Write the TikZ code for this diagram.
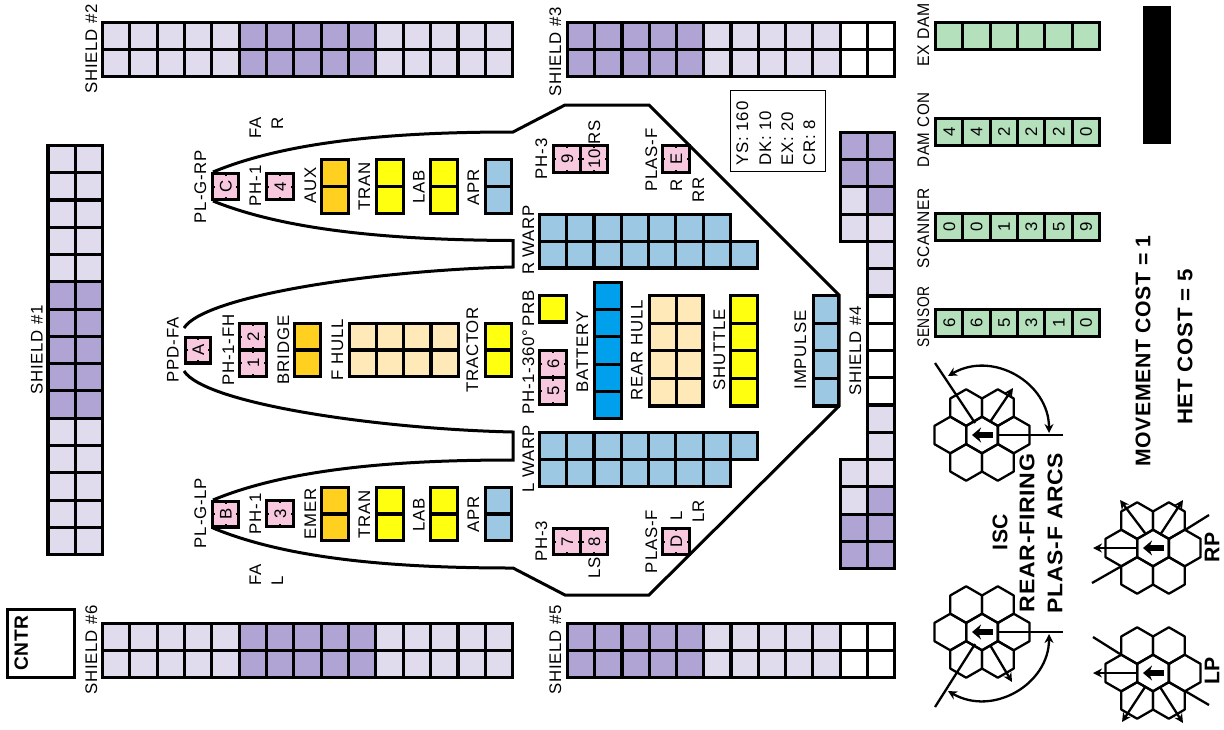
\documentclass[tikz,border=0pt]{standalone}
\usepackage{fontspec}
\setmainfont{Liberation Sans}
\newfontfamily\ssdfont[LetterSpace=5]{Liberation Sans}
\newfontfamily\ssdbold[LetterSpace=3]{Liberation Sans Bold}
\definecolor{shlight}{HTML}{E0DCEE}
\definecolor{shdark}{HTML}{AFA4D4}
\definecolor{ssdpink}{HTML}{F7C8DE}
\definecolor{ssdorange}{HTML}{FFD020}
\definecolor{ssdyellow}{HTML}{FFFF10}
\definecolor{ssdblue}{HTML}{9CC8E3}
\definecolor{ssdcream}{HTML}{FFE9B8}
\definecolor{ssdbatt}{HTML}{00A0EC}
\definecolor{ssdgreen}{HTML}{B4E0BC}
\tikzset{
	cellbox/.style={draw=black,line width=1.55pt,line join=miter},
	hull/.style={draw=black,line width=1.5pt,line join=miter},
	lab/.style={font=\ssdfont\fontsize{8.4}{9}\selectfont,rotate=90,inner sep=0pt,text height=6pt,text depth=0pt},
	digit/.style={lab,fill=none},
	bigtext/.style={font=\ssdbold\fontsize{10.6}{12}\selectfont,rotate=90,inner sep=0pt,text height=7.4pt,text depth=0pt},
	hexline/.style={line width=1.15pt,line join=round},
	arctip/.style={line width=1.15pt,-{Stealth[length=4.5pt,width=4.5pt]}},
	arctwo/.style={line width=1.15pt,{Stealth[length=4.5pt,width=4.5pt]}-{Stealth[length=4.5pt,width=4.5pt]}},
	facing/.style={line width=2.6pt,-{Stealth[length=4.5pt,width=7.5pt]}}
}
% x y cols rows pitchx pitchy colour
\newcommand{\blockgrid}[7]{
	\foreach \i in {1,...,#3}
		\foreach \j in {1,...,#4}
			\draw[cellbox,fill=#7] ({#1+(\i-1)*#5},{#2+(\j-1)*#6}) rectangle ++(#5,#6);
}
% name x y w h text
\newcommand{\phcell}[6]{
	\draw[cellbox,fill=ssdpink] (#2,#3) rectangle ++(#4,#5);
	\draw[line width=1pt] ({#2+#4/2},#3) -- ++(0,3);
	\draw[line width=1pt] ({#2+#4/2},{#3+#5}) -- ++(0,-3);
	\draw[line width=1pt] (#2,{#3+#5/2}) -- ++(3,0);
	\draw[line width=1pt] ({#2+#4},{#3+#5/2}) -- ++(-3,0);
	\node[digit] (#1) at ({#2+#4/2},{#3+#5/2}) {#6};
}
% seven hexes round a centre
\newcommand{\hexflower}[2]{
	\foreach \dx/\dy in {0/0,-31.7/0,31.7/0,-15.85/-27.4,15.85/-27.4,-15.85/27.4,15.85/27.4}
		\draw[hexline] ({#1+\dx},{#2+\dy-18.3}) -- ++(15.85,9.15) -- ++(0,18.3) -- ++(-15.85,9.15) -- ++(-15.85,-9.15) -- ++(0,-18.3) -- cycle;
	\draw[facing] ({#1+11},#2) -- ({#1-10},#2);
}
\usetikzlibrary{arrows.meta}
\begin{document}
\begin{tikzpicture}[x=0.5pt,y=-0.5pt]
	\useasboundingbox (0,0) rectangle (1224,729);

	% shields
	\blockgrid{102.4}{22.5}{5}{2}{27.35}{27}{shlight}
	\blockgrid{239.15}{22.5}{5}{2}{27.35}{27}{shdark}
	\blockgrid{375.9}{22.5}{5}{2}{27.35}{27}{shlight}
	\blockgrid{102.4}{623.5}{5}{2}{27.35}{27}{shlight}
	\blockgrid{239.15}{623.5}{5}{2}{27.35}{27}{shdark}
	\blockgrid{375.9}{623.5}{5}{2}{27.35}{27}{shlight}

	\blockgrid{567.4}{22.5}{5}{2}{27.27}{27}{shdark}
	\blockgrid{703.75}{22.5}{5}{2}{27.27}{27}{shlight}
	\blockgrid{840.1}{22.5}{2}{2}{27.27}{27}{white}
	\blockgrid{567.4}{623.5}{5}{2}{27.27}{27}{shdark}
	\blockgrid{703.75}{623.5}{5}{2}{27.27}{27}{shlight}
	\blockgrid{840.1}{623.5}{2}{2}{27.27}{27}{white}

	\blockgrid{48}{145.4}{2}{5}{27.3}{27.28}{shlight}
	\blockgrid{48}{281.8}{2}{5}{27.3}{27.28}{shdark}
	\blockgrid{48}{418.2}{2}{5}{27.3}{27.28}{shlight}

	\blockgrid{840.4}{132.4}{2}{2}{27.1}{27.26}{shdark}
	\blockgrid{840.4}{186.92}{1}{2}{27.1}{27.26}{shlight}
	\blockgrid{867.5}{186.92}{1}{1}{27.1}{27.26}{shdark}
	\blockgrid{867.5}{214.18}{1}{3}{27.1}{27.26}{shlight}
	\blockgrid{867.5}{295.96}{1}{4}{27.1}{27.26}{white}
	\blockgrid{867.5}{405}{1}{3}{27.1}{27.26}{shlight}
	\blockgrid{840.4}{459.52}{1}{2}{27.1}{27.26}{shlight}
	\blockgrid{867.5}{486.78}{1}{1}{27.1}{27.26}{shdark}
	\blockgrid{840.4}{514.04}{2}{2}{27.1}{27.26}{shdark}

	% hull outline
	\draw[hull] (213,172) .. controls (290,140) and (400,132) .. (513,132)
		-- (565,105) -- (649,105) -- (839,295) -- (839,406) -- (649,595) -- (565,595) -- (513,568)
		.. controls (400,568) and (290,560) .. (213,528);
	\draw[hull] (213,500) .. controls (290,468) and (400,460) .. (513,460)
		-- (513,432) .. controls (380,429) and (205,404) .. (184,371);
	\draw[hull] (184,328) .. controls (205,295) and (380,270) .. (513,267)
		-- (513,240.5) .. controls (400,240) and (290,232) .. (213,201);

	% systems
	\blockgrid{321.4}{159.4}{1}{2}{27.2}{27.1}{ssdorange}
	\blockgrid{376.4}{159.4}{1}{2}{27.2}{27.1}{ssdyellow}
	\blockgrid{430.4}{159.4}{1}{2}{27.2}{27.1}{ssdyellow}
	\blockgrid{485.4}{159.4}{1}{2}{26.2}{27.1}{ssdblue}
	\blockgrid{321.4}{487.4}{1}{2}{27.2}{26.6}{ssdorange}
	\blockgrid{376.4}{487.4}{1}{2}{27.2}{26.6}{ssdyellow}
	\blockgrid{430.4}{487.4}{1}{2}{27.2}{26.6}{ssdyellow}
	\blockgrid{485.4}{487.4}{1}{2}{26.2}{26.6}{ssdblue}

	\blockgrid{294.4}{323.4}{1}{2}{26.2}{26.6}{ssdorange}
	\blockgrid{349.4}{323.4}{4}{2}{27.2}{26.6}{ssdcream}
	\blockgrid{485.4}{323.4}{1}{2}{26.2}{26.6}{ssdyellow}
	\blockgrid{539.4}{295.4}{1}{1}{27.2}{26.6}{ssdyellow}
	\blockgrid{594.4}{282.4}{1}{5}{27.2}{27.24}{ssdbatt}
	\blockgrid{649.4}{295.4}{2}{4}{26.8}{27.65}{ssdcream}
	\blockgrid{730.4}{295.4}{1}{4}{27.2}{27.65}{ssdyellow}
	\blockgrid{813.4}{295.4}{1}{4}{25.4}{27.65}{ssdblue}

	\blockgrid{539.4}{214.4}{7}{1}{27.3}{27}{ssdblue}
	\blockgrid{539.4}{241.4}{8}{1}{27.3}{26.6}{ssdblue}
	\blockgrid{539.4}{432.4}{8}{1}{27.3}{27}{ssdblue}
	\blockgrid{539.4}{459.4}{7}{1}{27.3}{27.2}{ssdblue}

	% weapons
	\phcell{boxA}{185.4}{337.4}{25.2}{25.6}{A}
	\phcell{boxB}{212.4}{501.4}{26.2}{25.6}{B}
	\phcell{boxC}{212.4}{173.4}{26.2}{26.2}{C}
	\phcell{boxD}{662.4}{528.4}{27.2}{26.2}{D}
	\phcell{boxE}{662.4}{145.4}{27.2}{27.2}{E}
	\phcell{phone}{239.4}{350}{27.2}{26.6}{1}
	\phcell{phtwo}{239.4}{323.4}{27.2}{26.6}{2}
	\phcell{phthree}{266.4}{500.4}{27.2}{26.2}{3}
	\phcell{phfour}{266.4}{173.4}{27.2}{26.2}{4}
	\phcell{phfive}{539.4}{377.6}{27.2}{27}{5}
	\phcell{phsix}{539.4}{350.4}{27.2}{27.2}{6}
	\phcell{phseven}{553.4}{528.4}{27.2}{26.2}{7}
	\phcell{pheight}{580.6}{528.4}{27.2}{26.2}{8}
	\phcell{phnine}{553.4}{145.4}{27.2}{27.2}{9}
	\phcell{phten}{580.6}{145.4}{27.2}{27.2}{10}

	% damage tracks
	\blockgrid{935.4}{22.4}{6}{1}{27.37}{27.2}{ssdgreen}
	\foreach \v [count=\i] in {4,4,2,2,2,0}{
		\draw[cellbox,fill=ssdgreen] ({935.4+(\i-1)*27.37},118.4) rectangle ++(27.37,27.2);
		\node[digit] (damcon\i) at ({949.1+(\i-1)*27.37},132) {\v};
	}
	\foreach \v [count=\i] in {0,0,1,3,5,9}{
		\draw[cellbox,fill=ssdgreen] ({935.4+(\i-1)*27.37},213.4) rectangle ++(27.37,27.2);
		\node[digit] (scanner\i) at ({949.1+(\i-1)*27.37},227) {\v};
	}
	\foreach \v [count=\i] in {6,6,5,3,1,0}{
		\draw[cellbox,fill=ssdgreen] ({935.4+(\i-1)*27.37},309.4) rectangle ++(27.37,27.2);
		\node[digit] (sensor\i) at ({949.1+(\i-1)*27.37},323) {\v};
	}
	\fill[black] (1143,6) rectangle (1171,144);

	% data box
	\draw[line width=0.65pt] (730.5,90.5) rectangle (825.5,171.5);
	\node[lab,anchor=west] (ys) at (742,166) {YS: 160};
	\node[lab,anchor=west] (dk) at (765,166) {DK: 10};
	\node[lab,anchor=west] (ex) at (787,166) {EX: 20};
	\node[lab,anchor=west] (cr) at (809,166) {CR: 8};

	% counter box
	\draw[cellbox] (7.5,609.5) rectangle (74.5,677.5);
	\node[bigtext,font=\ssdbold\fontsize{9.6}{10}\selectfont,text height=6.8pt] (cntr) at (21,643) {CNTR};

	% labels
	\node[lab] (shieldone) at (36.5,350) {SHIELD \#1};
	\node[lab] (shieldtwo) at (91,49) {SHIELD \#2};
	\node[lab] (shieldthree) at (555,52) {SHIELD \#3};
	\node[lab] (shieldfour) at (855,351) {SHIELD \#4};
	\node[lab] (shieldfive) at (555,650) {SHIELD \#5};
	\node[lab] (shieldsix) at (91,650) {SHIELD \#6};

	\node[lab,anchor=east] (fa-r) at (255,117) {FA};
	\node[lab,anchor=east] (r-r) at (277,117) {R};
	\node[lab,anchor=west] (fa-l) at (255,586) {FA};
	\node[lab,anchor=west] (l-l) at (277,586) {L};

	\node[lab] (plgrp) at (200,186.5) {PL-G-RP};
	\node[lab] (plglp) at (200,513) {PL-G-LP};
	\node[lab] (phrp) at (255,186) {PH-1};
	\node[lab] (phlp) at (255,514) {PH-1};
	\node[lab] (aux) at (310,185) {AUX};
	\node[lab] (emer) at (310,514) {EMER};
	\node[lab] (tranr) at (364,186) {TRAN};
	\node[lab] (tranl) at (364,514) {TRAN};
	\node[lab] (labr) at (418.5,187) {LAB};
	\node[lab] (labl) at (418.5,515) {LAB};
	\node[lab] (aprr) at (473,187) {APR};
	\node[lab] (aprl) at (473,514) {APR};
	\node[lab] (rwarp) at (528,240) {R WARP};
	\node[lab] (lwarp) at (528,459) {L WARP};

	\node[lab] (ppdfa) at (172.5,350) {PPD-FA};
	\node[lab] (phfh) at (228,350) {PH-1-FH};
	\node[lab] (bridge) at (283,350) {BRIDGE};
	\node[lab] (fhull) at (337,350) {F HULL};
	\node[lab] (tractor) at (472,350) {TRACTOR};
	\node[lab] (prb) at (528,308) {PRB};
	\node[lab] (ph360) at (528,372) {PH-1-360\textdegree};
	\node[lab] (battery) at (582,352) {BATTERY};
	\node[lab] (rearhull) at (636.5,350) {REAR HULL};
	\node[lab] (shuttle) at (719,350) {SHUTTLE};
	\node[lab] (impulse) at (800,350) {IMPULSE};

	\node[lab] (phthreer) at (541,159) {PH-3};
	\node[lab,anchor=east] (rs) at (594,120) {RS};
	\node[lab] (plasr) at (651,160) {PLAS-F};
	\node[lab,anchor=west] (plr) at (676,192) {R};
	\node[lab,anchor=west] (rr) at (698,203) {RR};
	\node[lab] (phthreel) at (541,541.5) {PH-3};
	\node[lab,anchor=west] (ls) at (594,579) {LS};
	\node[lab] (plasl) at (651,541.5) {PLAS-F};
	\node[lab,anchor=east] (pll) at (676,511) {L};
	\node[lab,anchor=east] (lr) at (698,500) {LR};

	\node[lab] (exdam) at (923,35) {\scalebox{0.94}[1]{EX DAM}};
	\node[lab] (damcon) at (923,130) {\scalebox{0.9}[1]{DAM CON}};
	\node[lab] (scanner) at (923,228) {\scalebox{0.92}[1]{SCANNER}};
	\node[lab] (sensor) at (923,317) {\scalebox{0.82}[1]{SENSOR}};

	\node[bigtext] (movement) at (1143,351) {MOVEMENT COST = 1};
	\node[bigtext] (hetcost) at (1185,347) {\scalebox{1.05}[1]{HET COST = 5}};
	\node[bigtext] (isc) at (1000,532) {ISC};
	\node[bigtext] (rearfiring) at (1027,533) {\scalebox{1.09}[1]{REAR-FIRING}};
	\node[bigtext] (plasarcs) at (1055,533) {\scalebox{1.08}[1]{PLAS-F ARCS}};
	\node[bigtext] (rp) at (1212,547) {RP};
	\node[bigtext] (lp) at (1212,671) {LP};

	% arc diagrams
	\hexflower{982}{435}
	\hexflower{982}{632}
	\hexflower{1153}{548}
	\hexflower{1153}{673}

	\draw[hexline] (997,435) -- (1063,435);
	\draw[hexline] (975,423) -- (935,363);
	\draw[arctip] (990,422) -- (1013,388);
	\draw[arctwo] (1049,433) .. controls (1049,383) and (993,350) .. (948,376);

	\draw[hexline] (997,632) -- (1063,632);
	\draw[hexline] (975,644) -- (935,707);
	\draw[arctip] (990,645) -- (1012,682);
	\draw[arctwo] (1049,634) .. controls (1049,684) and (993,717) .. (948,691);

	\draw[arctip] (1137,548) -- (1093,548);
	\draw[arctip] (1145,533) -- (1120,500);
	\draw[arctip] (1160,535) -- (1183,500);
	\draw[hexline] (1185,530) -- (1209,515);
	\draw[hexline] (1120,567) -- (1092,583);

	\draw[arctip] (1137,673) -- (1093,673);
	\draw[arctip] (1145,687) -- (1122,722);
	\draw[arctip] (1160,687) -- (1183,723);
	\draw[hexline] (1093,637) -- (1120,654);
	\draw[hexline] (1185,691) -- (1209,705);
\end{tikzpicture}
\end{document}
